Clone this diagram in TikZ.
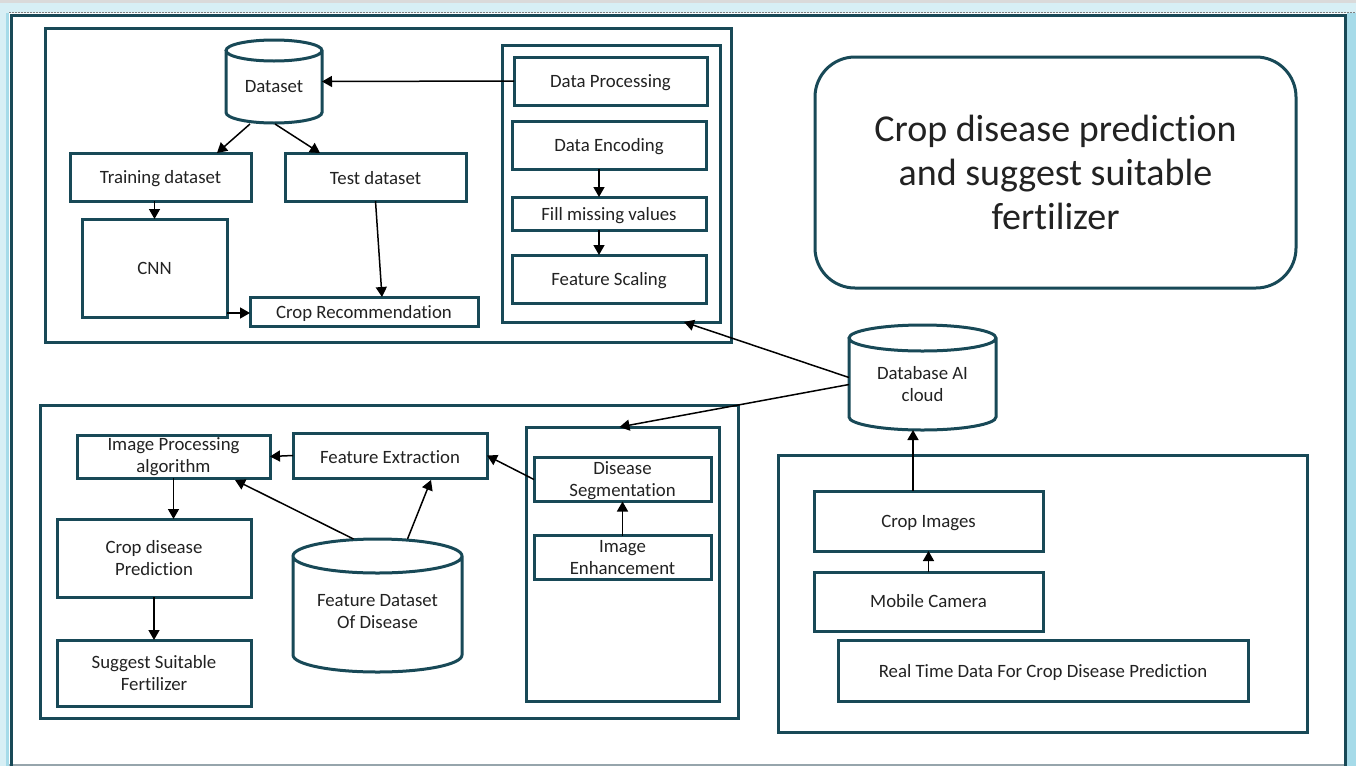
\documentclass[tikz,border=0pt]{standalone}
\usepackage{fontspec}
\setmainfont{Carlito}[Ligatures=NoCommon]
\usetikzlibrary{arrows.meta,calc,positioning}
\definecolor{teal}{RGB}{24,73,87}
\definecolor{txt}{RGB}{34,34,34}
\definecolor{paleblue}{RGB}{215,239,245}
\definecolor{stripblue}{RGB}{166,219,233}
\definecolor{topgrey}{RGB}{218,218,218}
\newcommand\bodyfont{\fontsize{18.8}{22}\selectfont}
\newcommand\drawcyl[2]{%
  \draw[boxline] let \p1=(#1.north west),\p2=(#1.south east),\n1={(\x2-\x1)/2},\n2={#2pt} in
  (\x1,\y1-\n2) -- (\x1,\y2+\n2) arc[start angle=180,end angle=360,x radius=\n1,y radius=\n2] -- (\x2,\y1-\n2)
  (\x1+\n1,\y1-\n2) ellipse[x radius=\n1,y radius=\n2];}
\newcommand\dn[2]{\raisebox{-#1pt}[\height][\depth]{#2}}
\tikzset{
  boxline/.style={draw=teal,line width=3pt},
  box/.style={boxline,rectangle,inner sep=0pt,outer sep=0pt,align=center,font=\bodyfont,text=txt},
  group/.style={boxline,rectangle,inner sep=0pt,outer sep=0pt},
  cylbox/.style={rectangle,inner sep=0pt,outer sep=0pt,align=center,font=\bodyfont,text=txt},
  arr/.style={draw=black,line width=1.5pt,-{Triangle[length=10pt,width=11pt]}},
}
\begin{document}
\begin{tikzpicture}[x=1pt,y=-1pt]
\useasboundingbox (0,0) rectangle (1356,766);
% background
\fill[paleblue] (0,0) rectangle (1356,13);
\fill[topgrey] (0,0) rectangle (1356,3);
\fill[paleblue] (0,13) rectangle (9,766);
\fill[stripblue] (6,13) rectangle (9,766);
\fill[stripblue] (1347,13) rectangle (1356,766);
\draw[gray,line width=1.2pt,dash pattern=on 2pt off 1pt] (9,12.5) -- (1356,12.5);
\fill[white] (12,16) rectangle (1344,764);
\draw[color={rgb,255:red,150;green,165;blue,172},line width=1.5pt] (9,765.2) -- (1347,765.2);
\draw[boxline] (11,766) -- (11,15) -- (1345,15) -- (1345,766);

% ---------- top-left group ----------
\node[group,minimum width=686,minimum height=314] (grp1) at (388,185) {};
\node[cylbox,minimum width=96,minimum height=83] (ds) at (274,81.5) {\dn{5.5}{Dataset}};
\drawcyl{ds}{10.5}
\node[box,minimum width=181,minimum height=48] (train) at (160.5,177) {\dn{1.5}{Training dataset}};
\node[box,minimum width=181,minimum height=48] (test) at (375.5,177) {\dn{1.5}{Test dataset}};
\node[box,minimum width=145,minimum height=98] (cnn) at (154.5,268) {CNN};
\node[box,minimum width=228,minimum height=29] (croprec) at (364,311.5) {\dn{2}{Crop Recommendation}};
\node[group,minimum width=218,minimum height=277] (inner1) at (611,183.5) {};
\node[box,minimum width=193,minimum height=48] (dproc) at (610.5,81) {\dn{2}{Data Processing}};
\node[box,minimum width=194,minimum height=48] (denc) at (609,145) {\dn{2}{Data Encoding}};
\node[box,minimum width=194,minimum height=33] (fill) at (609,213.5) {\dn{2}{Fill missing values}};
\node[box,minimum width=194,minimum height=48] (fscale) at (609,279) {\dn{2}{Feature Scaling}};

% ---------- title ----------
\node[box,rounded corners=40pt,minimum width=481,minimum height=231,font=\fontsize{38}{44}\selectfont] (title) at (1055.5,172.5)
  {Crop disease prediction\\and suggest suitable\\fertilizer};

% ---------- database ----------
\node[cylbox,minimum width=147,minimum height=105] (dbai) at (922.5,377.5)
  {\dn{9}{\begin{tabular}{@{}c@{}}Database AI\\cloud\end{tabular}}};
\drawcyl{dbai}{13}

% ---------- bottom-left group ----------
\node[group,minimum width=698,minimum height=313] (grp2) at (389,561.5) {};
\node[box,minimum width=193,minimum height=43] (imgproc) at (173.5,456.5) {Image Processing\\algorithm};
\node[box,minimum width=194,minimum height=45] (featext) at (390,455.5) {\dn{1.5}{Feature Extraction}};
\node[box,minimum width=194,minimum height=78] (cdp) at (154,558) {Crop disease\\Prediction};
\node[box,minimum width=194,minimum height=66] (sugg) at (154,673) {Suggest Suitable\\Fertilizer};
\node[cylbox,minimum width=169,minimum height=133] (fdd) at (377.5,605.5)
  {\dn{8}{\begin{tabular}{@{}c@{}}Feature Dataset\\Of Disease\end{tabular}}};
\drawcyl{fdd}{17}
\node[group,minimum width=193,minimum height=274] (inner2) at (622.5,564) {};
\node[box,minimum width=177,minimum height=43] (dseg) at (622.5,479.5) {\dn{2}{\begin{tabular}{@{}c@{}}Disease\\Segmentation\end{tabular}}};
\node[box,minimum width=177,minimum height=43] (ienh) at (622.5,557.5) {\dn{2}{\begin{tabular}{@{}c@{}}Image\\Enhancement\end{tabular}}};

% ---------- bottom-right group ----------
\node[group,minimum width=529,minimum height=277] (grp3) at (1042.5,593.5) {};
\node[box,minimum width=229,minimum height=60] (cimg) at (928.5,521) {\dn{2}{Crop Images}};
\node[box,minimum width=229,minimum height=59] (mcam) at (928.5,601.5) {Mobile Camera};
\node[box,minimum width=410,minimum height=61] (rtd) at (1043,670.5) {\dn{2}{Real Time Data For Crop Disease Prediction}};

% ---------- connectors ----------
\draw[arr] (dproc.west) -- (ds.east);
\draw[arr] ($(ds.south)+(-24,1)$) -- ($(train.north)+(56.5,0)$);
\draw[arr] ($(ds.south)+(1,1)$) -- ($(test.north)+(-55.5,0)$);
\draw[arr] (cnn.north |- train.south) -- (cnn.north);
\draw[arr] (test.south) -- ($(croprec.north)+(18,0)$);
\draw[arr] ($(cnn.south east)+(0,-4)$) -- ($(croprec.west)+(0,1.5)$);
\draw[arr] ($(denc.south)+(-10,0)$) -- ($(fill.north)+(-10,0)$);
\draw[arr] ($(fill.south)+(-10,0)$) -- ($(fscale.north)+(-10,0)$);
\draw[arr] (dbai.west) -- ($(inner1.south east)+(-36,0)$);
\draw[arr] ($(dbai.west)+(0,7)$) -- ($(inner2.north)+(-3,0)$);
\draw[arr] ($(cimg.north)+(-15.5,0)$) coordinate (ct) -- (ct |- dbai.south);
\draw[arr] (mcam.north) -- (cimg.south);
\draw[arr] (featext.west) -- (imgproc.east);
\draw[arr] (imgproc.south) -- (imgproc.south |- cdp.north);
\draw[arr] (cdp.south) -- (sugg.north);
\draw[arr] ($(fdd.north)+(-24,0)$) -- ($(imgproc.south)+(61.5,2)$);
\draw[arr] ($(fdd.north)+(30,0)$) -- ($(featext.south)+(41,2)$);
\draw[arr] (dseg.west) -- (featext.east);
\draw[arr] (ienh.north) -- (dseg.south);
\end{tikzpicture}
\end{document}
